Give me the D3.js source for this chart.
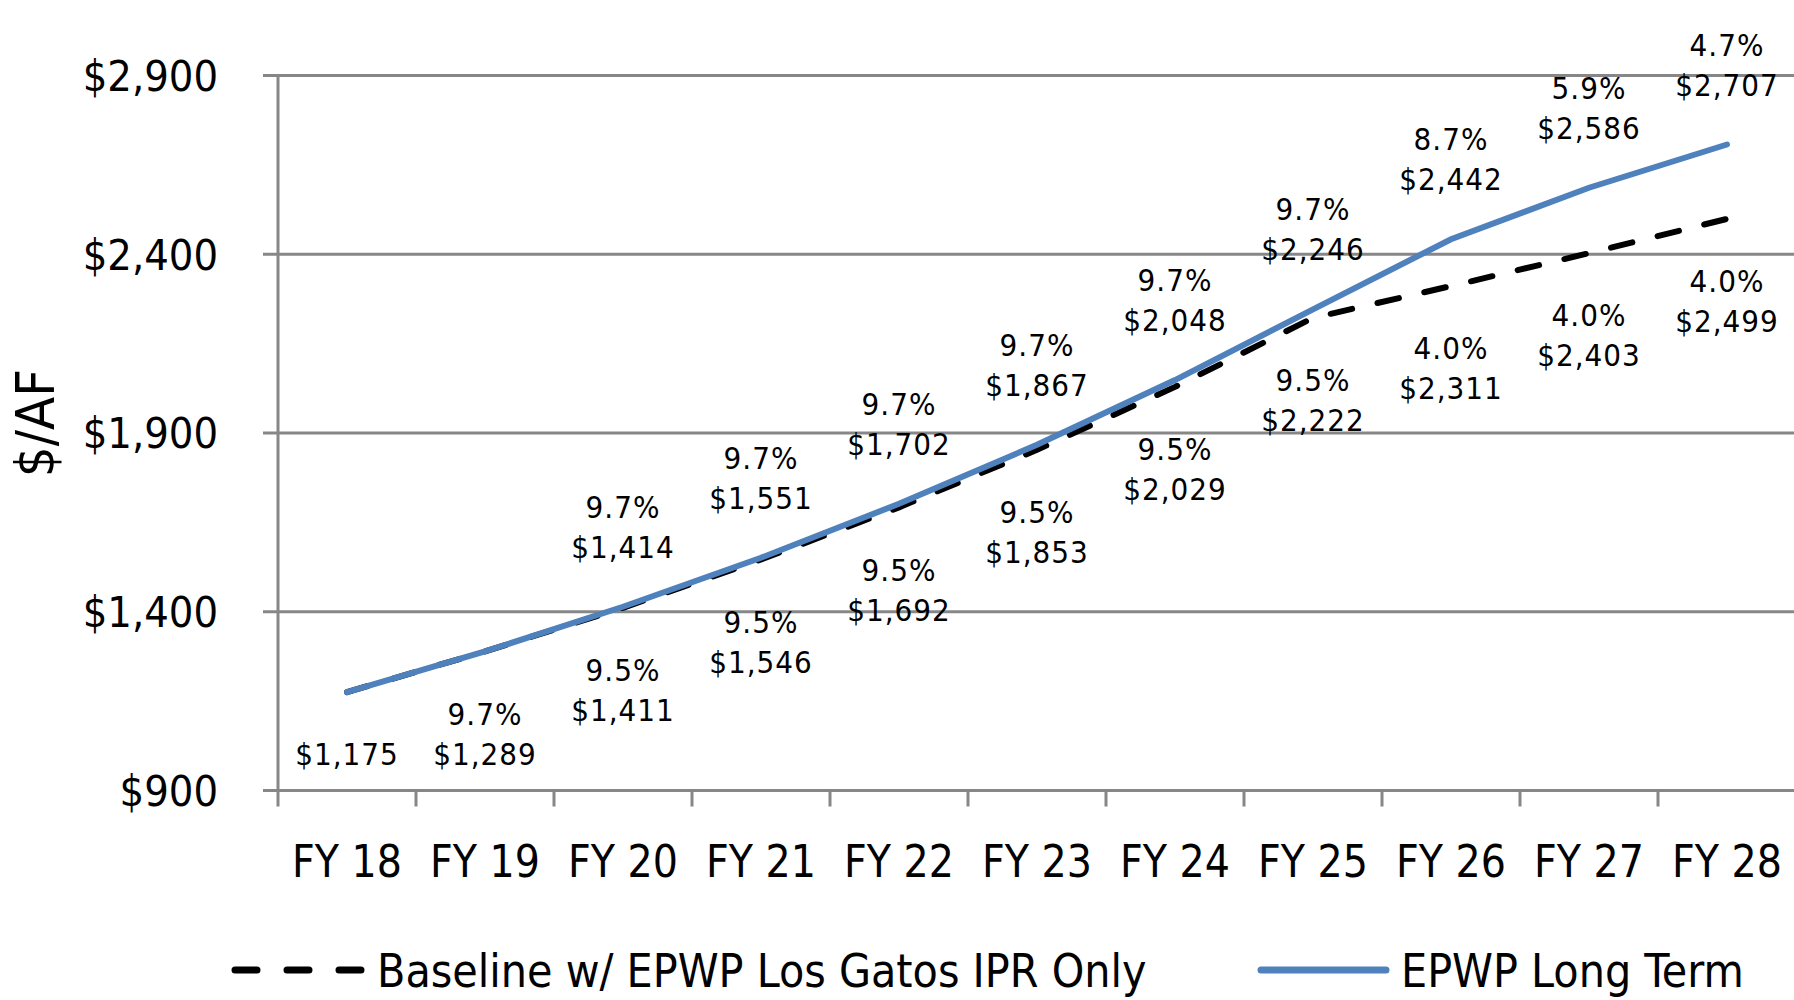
<!DOCTYPE html>
<html>
<head>
<meta charset="utf-8">
<script src="https://cdn.jsdelivr.net/npm/d3@7"></script>
<style>
  body { margin: 0; background: #fff; }
  svg text { font-family: 'Liberation Sans Narrow', 'DejaVu Sans Condensed', sans-serif; fill: #000; }
</style>
</head>
<body>
<div id="chart"></div>
<script>
// Data
const years = ["FY 18", "FY 19", "FY 20", "FY 21", "FY 22", "FY 23", "FY 24", "FY 25", "FY 26", "FY 27", "FY 28"];
const baseline = [1175, 1289, 1411, 1546, 1692, 1853, 2029, 2222, 2311, 2403, 2499];
const longTerm = [1175, 1289, 1414, 1551, 1702, 1867, 2048, 2246, 2442, 2586, 2707];
const baselinePct = ["", "9.7%", "9.5%", "9.5%", "9.5%", "9.5%", "9.5%", "9.5%", "4.0%", "4.0%", "4.0%"];
const longTermPct = ["", "", "9.7%", "9.7%", "9.7%", "9.7%", "9.7%", "9.7%", "8.7%", "5.9%", "4.7%"];
const yTicks = [900, 1400, 1900, 2400, 2900];
const seriesNames = ["Baseline w/ EPWP Los Gatos IPR Only", "EPWP Long Term"];

const W = 1794, H = 1000;
const gridColor = "#878787";
const blue = "#4F81BD";

const svg = d3.select("#chart")
  .append("svg")
  .attr("width", W)
  .attr("height", H);

// scales
const x = d3.scaleBand()
  .domain(years)
  .range([278, 278 + 138 * years.length])
  .padding(0);

const y = d3.scaleLinear()
  .domain([900, 2900])
  .range([790.5, 75.5]);

const cx = d => x(d) + x.bandwidth() / 2;
const money = d3.format("$,");

// gridlines (with the little stub left of the axis)
svg.append("g")
  .selectAll("line")
  .data(yTicks)
  .join("line")
  .attr("x1", 263)
  .attr("x2", W)
  .attr("y1", d => y(d))
  .attr("y2", d => y(d))
  .attr("stroke", gridColor)
  .attr("stroke-width", 3);

// y axis line
svg.append("line")
  .attr("x1", 278).attr("x2", 278)
  .attr("y1", y(2900) - 1).attr("y2", y(900) + 16)
  .attr("stroke", gridColor)
  .attr("stroke-width", 3);

// x tick marks at the category boundaries
svg.append("g")
  .selectAll("line")
  .data(years.slice(1))
  .join("line")
  .attr("x1", d => x(d))
  .attr("x2", d => x(d))
  .attr("y1", y(900))
  .attr("y2", y(900) + 16)
  .attr("stroke", gridColor)
  .attr("stroke-width", 3);

// y tick labels
svg.append("g")
  .selectAll("text")
  .data(yTicks)
  .join("text")
  .attr("x", 218)
  .attr("y", d => y(d))
  .attr("dy", "0.36em")
  .attr("text-anchor", "end")
  .style("font-size", "43px")
  .text(d => money(d));

// x tick labels
svg.append("g")
  .selectAll("text")
  .data(years)
  .join("text")
  .attr("x", d => cx(d))
  .attr("y", 877)
  .attr("text-anchor", "middle")
  .style("font-size", "44px")
  .text(d => d);

// y axis title
svg.append("text")
  .attr("transform", "translate(54,423) rotate(-90)")
  .attr("text-anchor", "middle")
  .style("font-size", "54px")
  .text("$/AF");

// lines
const lineOf = vals => d3.line()
  .x((d, i) => cx(years[i]))
  .y(d => y(d))(vals);

svg.append("path")
  .attr("d", lineOf(baseline))
  .attr("fill", "none")
  .attr("stroke", "#000")
  .attr("stroke-width", 6)
  .attr("stroke-linecap", "round")
  .attr("stroke-dasharray", "22,26");

svg.append("path")
  .attr("d", lineOf(longTerm))
  .attr("fill", "none")
  .attr("stroke", blue)
  .attr("stroke-width", 6)
  .attr("stroke-linecap", "round");

// data labels
const labelSize = "31px";
const baseLabels = svg.append("g");
baseline.forEach((v, i) => {
  const lines = baselinePct[i] ? [baselinePct[i], money(v)] : [money(v)];
  lines.forEach((t, k) => {
    baseLabels.append("text")
      .attr("x", cx(years[i]))
      .attr("y", y(v) + 62 + k * 40)
      .attr("dy", "0.36em")
      .attr("text-anchor", "middle")
      .style("font-size", labelSize)
      .style("letter-spacing", "1px")
      .text(t);
  });
});

const longLabels = svg.append("g");
longTerm.forEach((v, i) => {
  if (!longTermPct[i]) return;
  [longTermPct[i], money(v)].forEach((t, k) => {
    longLabels.append("text")
      .attr("x", cx(years[i]))
      .attr("y", y(v) - 100 + k * 40)
      .attr("dy", "0.36em")
      .attr("text-anchor", "middle")
      .style("font-size", labelSize)
      .style("letter-spacing", "1px")
      .text(t);
  });
});

// legend
const legend = svg.append("g");
legend.append("line")
  .attr("x1", 235).attr("x2", 363)
  .attr("y1", 970).attr("y2", 970)
  .attr("stroke", "#000")
  .attr("stroke-width", 7)
  .attr("stroke-linecap", "round")
  .attr("stroke-dasharray", "22,30");
legend.append("text")
  .attr("x", 377).attr("y", 970)
  .attr("dy", "0.36em")
  .style("font-size", "46px")
  .text(seriesNames[0]);

legend.append("line")
  .attr("x1", 1261).attr("x2", 1386)
  .attr("y1", 970).attr("y2", 970)
  .attr("stroke", blue)
  .attr("stroke-width", 7)
  .attr("stroke-linecap", "round");
legend.append("text")
  .attr("x", 1401).attr("y", 970)
  .attr("dy", "0.36em")
  .style("font-size", "46px")
  .text(seriesNames[1]);
</script>
</body>
</html>
